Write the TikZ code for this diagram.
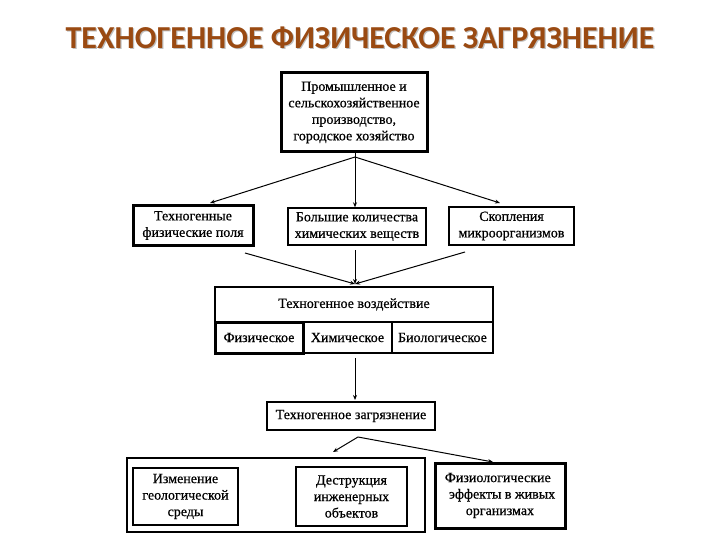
\documentclass[tikz,border=0pt]{standalone}
\usepackage{fontspec}
\setmainfont{Liberation Serif}[FakeBold=0.6]
\newfontfamily\titlefont{Carlito}
\usetikzlibrary{arrows.meta}
\definecolor{titlebrown}{HTML}{9A4A12}
\tikzset{
  box/.style={draw=black, line width=1.4pt, fill=white, align=center, inner sep=2pt,
    font=\fontsize{14}{16.5}\selectfont},
  thickbox/.style={box, line width=3pt},
  arr/.style={line width=1pt, -{Stealth[length=5pt,width=4pt]}},
  ln/.style={line width=1pt}
}
\begin{document}
\begin{tikzpicture}[x=1pt,y=-1pt]
\useasboundingbox (0,0) rectangle (720,540);
\node[font=\titlefont\bfseries\fontsize{32}{36}\selectfont, text=black!25] at (361.2,39.2)
  {ТЕХНОГЕННОЕ ФИЗИЧЕСКОЕ ЗАГРЯЗНЕНИЕ};
\node[font=\titlefont\bfseries\fontsize{32}{36}\selectfont, text=titlebrown] (title) at (360,38)
  {ТЕХНОГЕННОЕ ФИЗИЧЕСКОЕ ЗАГРЯЗНЕНИЕ};

\node[thickbox, minimum width=146, minimum height=79] (prod) at (354,112.5)
  {Промышленное и\\сельскохозяйственное\\производство,\\городское хозяйство};
\coordinate (split) at (355,157);

\node[thickbox, minimum width=120, minimum height=39] (fields) at (193,225.5)
  {Техногенные\\физические поля};
\node[box, minimum width=138, minimum height=37] (chem) at (357,226.5)
  {Большие количества\\химических веществ};
\node[box, minimum width=125, minimum height=38] (micro) at (511.5,226)
  {Скопления\\микроорганизмов};

\draw[ln] (split) -- (prod.south -| split);
\draw[arr] (split) -- (210,203);
\draw[arr] (split) -- (chem.north -| split);
\draw[arr] (split) -- (500,203);

% impact block
\node[box, minimum width=278, minimum height=35] (impact) at (354,304.5)
  {Техногенное воздействие};
\node[box, minimum width=89, minimum height=31] (chemimp) at (347.5,337.5) {Химическое};
\node[box, minimum width=101, minimum height=31] (bioimp) at (442.5,337.5) {Биологическое};
\node[thickbox, minimum width=88, minimum height=31] (physimp) at (259,337.5) {Физическое};
\draw[line width=1.4pt] (impact.north west) rectangle (bioimp.south east);

\coordinate (conv) at (355,284);
\draw[arr] (245,253) -- (conv);
\draw[arr] (355,250) -- (conv);
\draw[arr] (465,252) -- (conv);

\node[box, minimum width=168, minimum height=28] (poll) at (351,416)
  {Техногенное загрязнение};
\draw[arr] (355,358) -- (355,400);

% bottom
\node[box, minimum width=298, minimum height=74] (outer) at (276,495) {};
\node[box, minimum width=105, minimum height=57] (geo) at (185.5,496.5)
  {Изменение\\геологической\\среды};
\node[box, minimum width=111, minimum height=59] (destr) at (351.5,496.5)
  {Деструкция\\инженерных\\объектов};
\node[thickbox, minimum width=130, minimum height=65, align=left] (phys) at (500,495.5)
  {Физиологические\\\hspace*{0.3em}эффекты в живых\\\hspace*{1.5em}организмах};

\coordinate (split2) at (358,437);
\draw[arr] (split2) -- (333,452);
\draw[arr] (split2) -- (493,462);
\end{tikzpicture}
\end{document}
